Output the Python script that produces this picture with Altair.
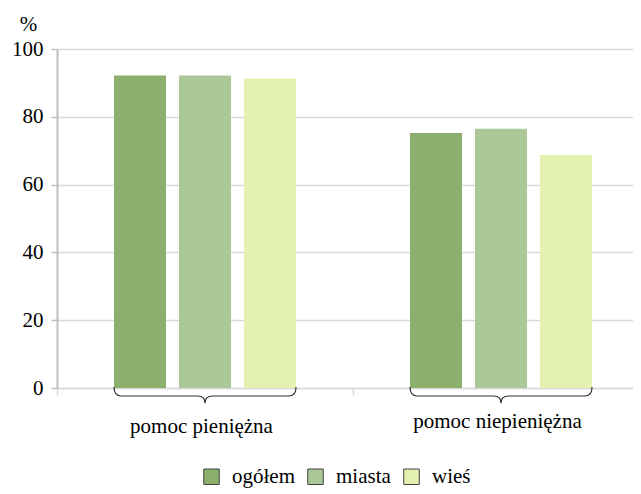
import altair as alt
import pandas as pd

categories = ["pomoc pieniężna", "pomoc niepieniężna"]
groups = ["ogółem", "miasta", "wieś"]
values_pieniezna = [92.2, 92.2, 91.3]
values_niepieniezna = [75.2, 76.5, 68.7]
colors = ["#8cb06b", "#adc898", "#e4f2b1"]
y_ticks = [0, 20, 40, 60, 80, 100]

rows = []
for g, v in zip(groups, values_pieniezna):
    rows.append({"cat": categories[0], "grp": g, "val": v})
for g, v in zip(groups, values_niepieniezna):
    rows.append({"cat": categories[1], "grp": g, "val": v})
df = pd.DataFrame(rows)
braces = pd.DataFrame({"cat": categories, "base": [0, 0]})

FONT = "'Liberation Serif', 'Times New Roman', 'DejaVu Serif', serif"
FS = 21

xscale = alt.Scale(domain=categories, range=[0, 592], paddingInner=0, paddingOuter=0)
yscale = alt.Scale(domain=[0, 100], nice=False)

bars = alt.Chart(df).mark_bar().encode(
    x=alt.X("cat:N", scale=xscale, sort=categories, title=None,
            axis=alt.Axis(
                tickBand="extent", tickSize=7, tickColor="#d9d9d9", tickWidth=1.5,
                domainColor="#d9d9d9", domainWidth=1.5, labelAngle=0,
                labelFont=FONT, labelFontSize=FS, labelColor="#000000",
                labelBaseline="alphabetic", labelOffset=-4,
                labelPadding={"condition": {"test": "datum.value == 'pomoc niepieniężna'", "value": 32}, "value": 37},
                grid=False)),
    xOffset=alt.XOffset("grp:N", sort=groups,
                        scale=alt.Scale(domain=groups, paddingInner=0.2, paddingOuter=0.877)),
    y=alt.Y("val:Q", scale=yscale, title="%",
            axis=alt.Axis(values=y_ticks, tickSize=6, tickColor="#bfbfbf", tickWidth=1.5,
                          domainColor="#bfbfbf", domainWidth=2,
                          gridColor="#d9d9d9", gridWidth=1.5,
                          labelFont=FONT, labelFontSize=FS, labelColor="#000000", labelPadding=8,
                          titleFont=FONT, titleFontSize=FS, titleFontWeight="normal", titleColor="#000000",
                          titleAngle=0, titleX=-29, titleY=-25, titleAlign="center", titleBaseline="middle")),
    color=alt.Color("grp:N", sort=groups, scale=alt.Scale(domain=groups, range=colors),
                    legend=alt.Legend(orient="none", legendX=144, legendY=417, direction="horizontal",
                                      title=None, symbolType="square", symbolSize=240,
                                      symbolStrokeColor="#404040", symbolStrokeWidth=1,
                                      symbolOpacity=1,
                                      labelFont=FONT, labelFontSize=FS, labelColor="#000000",
                                      labelOffset=10, columnPadding=10)),
)

brace_path = ("M -1 -0.1 Q -1 0 -0.92 0 L -0.08 0 Q 0 0 0 0.08 "
              "Q 0 0 0.08 0 L 0.92 0 Q 1 0 1 -0.1")

brace = alt.Chart(braces).mark_point(
    shape=brace_path, filled=False, stroke="#333333", strokeWidth=1.2, size=182 * 182,
    opacity=1, yOffset=8,
).encode(
    x=alt.X("cat:N", scale=xscale, sort=categories),
    y=alt.Y("base:Q", scale=yscale),
)

chart = alt.layer(bars, brace).properties(
    width=576, height=339,
    autosize=alt.AutoSizeParams(type="none"),
    padding={"left": 49, "top": 41, "right": 0, "bottom": 106},
).configure_view(stroke=None)

chart.save("out.html", embed_options={"renderer": "svg", "actions": False})
